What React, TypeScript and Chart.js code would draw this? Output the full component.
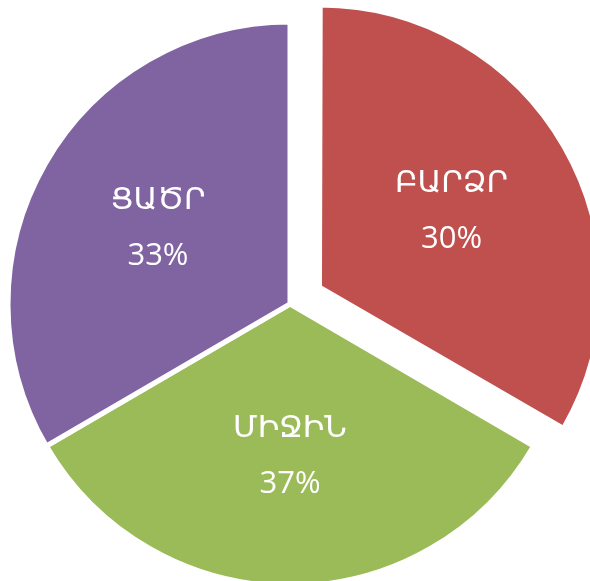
import React, { useEffect, useRef } from "react";
import { Chart, registerables } from "chart.js";

Chart.register(...registerables);

// Slice names (Armenian), slice sizes as drawn, and the printed percentage labels
const categories = ["ԲԱՐՁՐ", "ՄԻՋԻՆ", "ՑԱԾՐ"];
const sliceValues = [33.4, 33.2, 33.4];
const percentLabels = ["30%", "37%", "33%"];
const sliceColors = ["#C0504D", "#9BBB59", "#8064A2"];
const explodeOffsets = [136, 0, 0];

// Chart.js grows an exploded slice's radius slightly; undo that so every slice has the same radius
const keepRadiusPlugin = {
  id: "keepRadius",
  afterDatasetUpdate(chart: any, args: any) {
    const meta = chart.getDatasetMeta(args.index);
    meta.data.forEach((arc: any) => {
      const off = (arc.options?.offset || 0) / 4;
      if (!off) return;
      const circ = arc.circumference || 0;
      const fix = 1 - Math.sin(Math.min(Math.PI, circ));
      arc.outerRadius = arc.outerRadius - off * fix;
    });
  },
};

const sliceLabelPlugin = {
  id: "sliceLabels",
  afterDatasetsDraw(chart: any) {
    const ctx = chart.ctx;
    const meta = chart.getDatasetMeta(0);
    ctx.save();
    ctx.fillStyle = "#ffffff";
    ctx.textAlign = "center";
    ctx.textBaseline = "middle";
    ctx.font = "31px 'Open Sans', 'DejaVu Sans', sans-serif";
    meta.data.forEach((arc: any, i: number) => {
      const { x, y, startAngle, endAngle } = arc.getProps(
        ["x", "y", "startAngle", "endAngle"],
        true
      );
      const mid = (startAngle + endAngle) / 2;
      const shift = (arc.options.offset || 0) / 4;
      const r = 282 * 0.54 + shift;
      const cx = x + Math.cos(mid) * r;
      const cy = y + Math.sin(mid) * r;
      ctx.fillText(categories[i], cx, cy - 28);
      ctx.fillText(percentLabels[i], cx, cy + 28);
    });
    ctx.restore();
  },
};

export default function App() {
  const canvasRef = useRef<HTMLCanvasElement | null>(null);

  useEffect(() => {
    if (!canvasRef.current) return;
    const chart = new Chart(canvasRef.current, {
      type: "pie",
      data: {
        labels: categories,
        datasets: [
          {
            data: sliceValues,
            backgroundColor: sliceColors,
            borderColor: "#ffffff",
            borderWidth: 5,
            offset: explodeOffsets,
            hoverOffset: 0,
            radius: 282,
            clip: false,
          } as any,
        ],
      },
      options: {
        responsive: true,
        maintainAspectRatio: false,
        animation: false,
        layout: { padding: { left: 0, right: 10, top: 27, bottom: 0 } },
        plugins: {
          legend: { display: false },
          tooltip: { enabled: false },
        },
        events: [],
      },
      plugins: [keepRadiusPlugin, sliceLabelPlugin],
    });
    return () => chart.destroy();
  }, []);

  return (
    <div
      style={{
        position: "fixed",
        left: 0,
        top: 0,
        width: 590,
        height: 581,
        background: "#ffffff",
      }}
    >
      <canvas ref={canvasRef} />
    </div>
  );
}
